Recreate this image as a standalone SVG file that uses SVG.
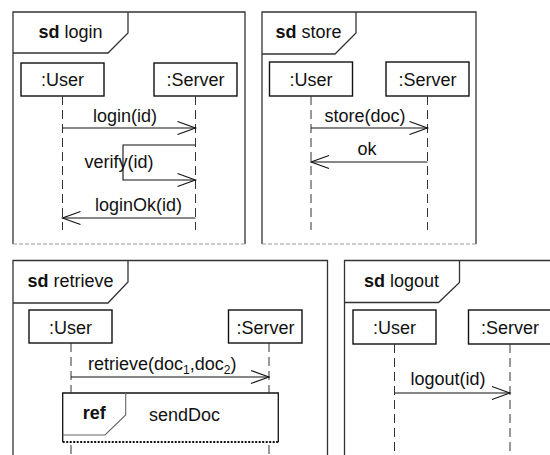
<svg xmlns="http://www.w3.org/2000/svg" width="550" height="455" viewBox="0 0 550 455">
<style>
text{font-family:"Liberation Sans",Arial,sans-serif;font-size:18px;fill:#111}
.c{text-anchor:middle}
.b{font-weight:bold}
.frame{fill:none;stroke:#333;stroke-width:1.3}
.fbot{fill:none;stroke:#999;stroke-width:1.2;stroke-dasharray:4,2}
.box{fill:#fff;stroke:#111;stroke-width:1.4}
.life{stroke:#333;stroke-width:1;stroke-dasharray:9,5;fill:none}
.msg{stroke:#111;stroke-width:1.1;fill:none;marker-end:url(#open)}
</style>
<defs>
<marker id="open" markerUnits="userSpaceOnUse" markerWidth="22" markerHeight="18" refX="19" refY="8" orient="auto">
<path d="M1,1.5 L19,8 L1,14.5" fill="none" stroke="#111" stroke-width="1.1"/>
</marker>
</defs>

<!-- sd login -->
<g id="frame-login">
<path class="frame" d="M13,244 V12 H245 V244"/>
<path class="fbot" d="M13,244 H245"/>
<path class="frame" d="M13,53 H108 L128,33 V12"/>
<text class="c" x="70.5" y="38"><tspan class="b">sd</tspan> login</text>
</g>
<g id="login-user"><rect class="box" x="21" y="63" width="83" height="33"/><text class="c" x="62.5" y="86">:User</text></g>
<g id="login-server"><rect class="box" x="154" y="63" width="83" height="33"/><text class="c" x="195.5" y="86">:Server</text></g>

<!-- sd store -->
<g id="frame-store">
<path class="frame" d="M262,244 V12 H476 V244"/>
<path class="fbot" d="M262,244 H476"/>
<path class="frame" d="M262,54 H335 L356,33 V12"/>
<text class="c" x="308.5" y="38"><tspan class="b">sd</tspan> store</text>
</g>
<g id="store-user"><rect class="box" x="269.5" y="62" width="83" height="34"/><text class="c" x="311" y="86">:User</text></g>
<g id="store-server"><rect class="box" x="386" y="62" width="83" height="34"/><text class="c" x="427.5" y="86">:Server</text></g>

<!-- sd retrieve -->
<g id="frame-retrieve">
<path class="frame" d="M13,456 V260.5 H327.5 V456"/>
<path class="frame" d="M13,303 H108 L128,282 V260.5"/>
<text class="c" x="70.5" y="287"><tspan class="b">sd</tspan> retrieve</text>
</g>
<g id="retrieve-user"><rect class="box" x="29" y="310" width="83" height="33"/><text class="c" x="70.5" y="334">:User</text></g>
<g id="retrieve-server"><rect class="box" x="228.5" y="310" width="73.5" height="33"/><text class="c" x="265.5" y="334">:Server</text></g>
<g id="ref-sendDoc">
<path fill="#fff" stroke="#111" stroke-width="1.3" d="M62.7,442 V393 H278.3 V442"/>
<path fill="none" stroke="#111" stroke-width="1.8" stroke-dasharray="2,1.5" d="M62.7,442 H278.3"/>
<path fill="none" stroke="#666" stroke-width="1.1" d="M62.7,435 H105 L125.7,415 V393"/>
<text class="c b" x="94.2" y="419">ref</text>
<text class="c" x="184.5" y="421">sendDoc</text>
</g>

<!-- sd logout -->
<g id="frame-logout">
<path class="frame" d="M344.5,456 V260.5 H551"/>
<path class="frame" d="M344.5,302.5 H438.5 L459.5,282.5 V260.5"/>
<text class="c" x="401.5" y="287"><tspan class="b">sd</tspan> logout</text>
</g>
<g id="logout-user"><rect class="box" x="353" y="310" width="83" height="34"/><text class="c" x="394.5" y="334">:User</text></g>
<g id="logout-server"><rect class="box" x="468.5" y="310" width="83" height="34"/><text class="c" x="510" y="334">:Server</text></g>

<g id="connectors">
<!-- lifelines -->
<path class="life" d="M62.5,96 V230 M195.5,96 V230"/>
<path class="life" d="M311,96 V230 M427.5,96 V230"/>
<path class="life" d="M71,343 V393 M269,343 V393"/>
<path class="life" d="M71,445 V456 M269,445 V456" stroke-dasharray="3,5"/>
<path class="life" d="M394.5,344 V456 M510,344 V456"/>
<!-- login messages -->
<path class="msg" d="M62.5,128 H195.5"/>
<text class="c" x="125" y="122">login(id)</text>
<path class="msg" d="M195.5,145 H123 V180 H195.5"/>
<text class="c" x="119" y="168">verify(id)</text>
<path class="msg" d="M195.5,218 H62.5"/>
<text class="c" x="138.5" y="211">loginOk(id)</text>
<!-- store messages -->
<path class="msg" d="M311,128 H427.5"/>
<text class="c" x="365" y="122">store(doc)</text>
<path class="msg" d="M427.5,162 H311"/>
<text class="c" x="367" y="155">ok</text>
<!-- retrieve message -->
<path class="msg" d="M71,377 H269"/>
<text x="88" y="370">retrieve(doc<tspan font-size="12" dy="4">1</tspan><tspan dy="-4">,doc</tspan><tspan font-size="12" dy="4">2</tspan><tspan dy="-4">)</tspan></text>
<!-- logout message -->
<path class="msg" d="M394.5,393 H510"/>
<text class="c" x="448" y="385">logout(id)</text>
</g>
</svg>
